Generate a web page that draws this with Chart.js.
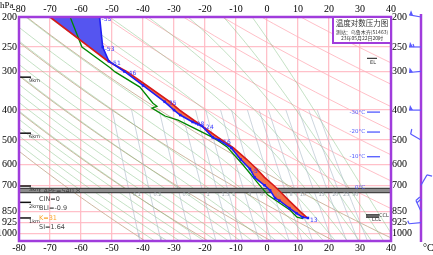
<!DOCTYPE html>
<html>
<head>
<meta charset="utf-8">
<script src="https://cdn.jsdelivr.net/npm/chart.js@4.4.1/dist/chart.umd.min.js"></script>
<style>
  html, body { margin: 0; padding: 0; background: #fff; }
</style>
</head>
<body>
<canvas id="skewt" width="433" height="255"></canvas>
<script>
// axes
const pressureTicks = [200, 250, 300, 400, 500, 600, 700, 850, 925, 1000];
const tempMin = -80, tempMax = 40;
const presTop = 200, presBottom = 1060;

// environment temperature (blue, with points)
const tempP = [200, 250, 278, 300, 333, 376, 400, 415, 437, 450, 490, 500, 530, 578, 620, 660, 700, 727, 770, 785, 830, 862, 888, 893];
const tempC = [-54, -53, -51, -46, -40, -33, -30, -28, -24, -21, -17.5, -15.5, -11.5, -8.5, -5.5, -4, -0.8, 1, 2.6, 4, 7.2, 9.5, 11.5, 13.2];

// dew point (green)
const dewP = [200, 250, 292, 301, 337, 380, 389, 394, 418, 431, 489, 500, 526, 602, 684, 753, 800, 842, 888, 898];
const dewC = [-63.5, -59.7, -50.6, -49, -41, -36.8, -35.5, -37.1, -32.9, -28.7, -17.7, -16.1, -12.9, -7.7, -3.2, 0.3, 4.2, 7.4, 9.7, 11.6];

// parcel curve (red)
const parcelP = [200, 278, 300, 333, 376, 400, 437, 490, 530, 578, 620, 660, 700, 740, 785, 830, 862, 890];
const parcelC = [-70, -51.3, -45.3, -38.8, -31.3, -28.2, -22.8, -15.8, -10.8, -6.5, -3.3, -0.8, 2.1, 4.6, 7.1, 9.6, 11.3, 12.9];

// labels next to the temperature curve
const tempLabelP = [200, 250, 278, 300, 376, 437, 450, 500, 620, 893];
const tempLabelText = ['-55', '-53', '-51', '-46', '-35', '-28', '-24', '-16', '-5', '13'];

// background lines
const dryTheta = [230, 250, 270, 290, 310, 330, 350, 370, 390, 410, 430, 450, 470, 490];
const moistStart = [-40, -36, -32, -28, -24, -20, -16, -12, -8, -4, 0, 4, 8, 12, 16, 20, 24, 28, 32, 36, 40];
const mixRatio = [0.1, 0.2, 0.5, 1, 1.5, 2, 3, 4, 6, 8, 10, 15, 20, 25, 30];
const mixLabel = ['0.1', '0.2', '0.5', '1', '1.5', '2', '3', '4', '6', '8', '10', '15', '20', '25', '30'];

// wind barbs (m/s, direction from)
const windP = [200, 250, 300, 400, 500, 700, 850, 925];
const windDir = [280, 270, 265, 270, 300, 30, 335, 265];
const windSpd = [20, 22, 20, 20, 4, 4, 8, 2];

// height marks on the left
const heightP = [313, 475, 704, 795, 893];
const heightText = ['9km', '6km', '3km', '2km', '1km'];

// indices
const statText = ['CAPE=540.8', 'CIN=0', 'BLI=-0.9', 'K=31', 'SI=1.64'];
const isoText = ['-30°C', '-20°C', '-10°C', '0°C'];
const isoP = [406, 471, 566, 712];

const PINK = 'rgba(255,185,195,0.9)';

function pts(ps, ts) { return ps.map((p, i) => ({x: ts[i], y: p})); }

// dry adiabat T(p) = theta*(p/1000)^0.286
function dryLine(theta) {
  const out = [];
  for (let p = 190; p <= 1070; p += 20) out.push({x: theta * Math.pow(p / 1000, 0.286) - 273.15, y: p});
  return out;
}

function satMix(tc, p) {
  const es = 6.112 * Math.exp(17.67 * tc / (tc + 243.5));
  return 0.622 * es / (p - es);
}
function moistRate(T, p) {
  const rs = satMix(T - 273.15, p);
  return (287 * T + 2.5e6 * rs) / (1004 + 2.5e6 * 2.5e6 * rs * 0.622 / (287 * T * T));
}
function moistLine(t0) {
  const up = [], down = [];
  let T = t0 + 273.15, lp = Math.log(1000), h = -0.02;
  up.push({x: t0, y: 1000});
  while (lp > Math.log(190)) {
    const k1 = moistRate(T, Math.exp(lp));
    const k2 = moistRate(T + h * k1, Math.exp(lp + h));
    T += h * (k1 + k2) / 2; lp += h;
    up.push({x: T - 273.15, y: Math.exp(lp)});
  }
  T = t0 + 273.15; lp = Math.log(1000);
  while (lp < Math.log(1070)) {
    const k1 = moistRate(T, Math.exp(lp));
    T += 0.02 * k1; lp += 0.02;
    down.push({x: T - 273.15, y: Math.exp(lp)});
  }
  return down.reverse().concat(up);
}
function mixT(w, p) {
  const e = w * p / (622 + w);
  const l = Math.log(e / 6.112);
  return 243.5 * l / (17.67 - l);
}
function mixLine(w) {
  const out = [];
  for (let p = 400; p <= 1070; p += 30) out.push({x: mixT(w, p), y: p});
  return out;
}

// fill polygons built from the curves
const upperIdx = parcelP.findIndex(p => p === 278);
const negShape = pts(parcelP, parcelC).filter(d => d.y <= 278)
  .concat(pts(tempP, tempC).filter(d => d.y <= 278).reverse());
const posShape = pts(parcelP, parcelC).filter(d => d.y >= 278)
  .concat(pts(tempP, tempC).filter(d => d.y >= 278).reverse());

const line = (data, color, width, extra) => Object.assign({
  data, borderColor: color, borderWidth: width, pointRadius: 0, fill: false, tension: 0
}, extra || {});

const datasets = [
  line(pts(tempP, tempC), 'rgb(30,30,245)', 1.6, {pointRadius: 1.8, pointStyle: 'rect', pointBackgroundColor: 'rgb(30,30,245)', pointBorderWidth: 0}),
  line(pts(parcelP, parcelC), 'rgb(215,25,25)', 1.6),
  line(pts(dewP, dewC), 'rgb(0,135,0)', 1.3),
  line(posShape, 'rgba(0,0,0,0)', 0, {fill: 'shape', backgroundColor: 'rgb(245,112,72)'}),
  line(negShape, 'rgba(0,0,0,0)', 0, {fill: 'shape', backgroundColor: 'rgb(85,85,240)'}),
  line([{x: tempMin, y: 716}, {x: tempMax, y: 716}], '#444', 1.2),
  line([{x: tempMin, y: 739}, {x: tempMax, y: 739}], '#444', 1.2),
  line([{x: tempMin, y: 727}, {x: tempMax, y: 727}], '#8c8c8c', 4)
];
mixRatio.forEach(w => datasets.push(line(mixLine(w), 'rgba(170,185,200,0.75)', 0.8)));
moistStart.forEach(t => datasets.push(line(moistLine(t), 'rgba(120,185,120,0.55)', 0.8)));
dryTheta.forEach(th => datasets.push(line(dryLine(th), th <= 310 ? 'rgba(200,175,150,0.9)' : 'rgba(255,175,185,0.8)', 1)));

function txt(ctx, s, x, y, font, color, align) {
  ctx.font = font; ctx.fillStyle = color; ctx.textAlign = align || 'left'; ctx.textBaseline = 'middle';
  ctx.fillText(s, x, y);
}

function drawBarb(ctx, x0, y0, dir, spd) {
  const r = dir * Math.PI / 180;
  const ux = Math.sin(r), uy = -Math.cos(r);
  const px = -uy, py = ux; // feather side
  const L = 12;
  ctx.beginPath();
  ctx.moveTo(x0, y0);
  ctx.lineTo(x0 + ux * L, y0 + uy * L);
  ctx.stroke();
  let pos = L, s = spd;
  while (s >= 20) {
    const bx = x0 + ux * pos, by = y0 + uy * pos;
    ctx.beginPath();
    ctx.moveTo(bx, by);
    ctx.lineTo(bx + px * 5 - ux * 1, by + py * 5 - uy * 1);
    ctx.lineTo(bx - ux * 4, by - uy * 4);
    ctx.closePath(); ctx.fill();
    pos -= 5; s -= 20;
  }
  while (s >= 4) {
    const bx = x0 + ux * pos, by = y0 + uy * pos;
    ctx.beginPath(); ctx.moveTo(bx, by);
    ctx.lineTo(bx + px * 5 + ux * 1.5, by + py * 5 + uy * 1.5); ctx.stroke();
    pos -= 2.5; s -= 4;
  }
  if (s >= 2) {
    const bx = x0 + ux * pos, by = y0 + uy * pos;
    ctx.beginPath(); ctx.moveTo(bx, by);
    ctx.lineTo(bx + px * 3 + ux * 1, by + py * 3 + uy * 1); ctx.stroke();
  }
}

const deco = {
  id: 'deco',
  beforeDraw(chart) {
    const ctx = chart.ctx;
    ctx.save(); ctx.fillStyle = '#fff'; ctx.fillRect(0, 0, chart.width, chart.height); ctx.restore();
  },
  afterDatasetsDraw(chart) {
    const {ctx, chartArea: a, scales} = chart;
    const X = v => scales.x.getPixelForValue(v);
    const Y = v => scales.y.getPixelForValue(v);
    ctx.save();

    // mixing ratio labels
    mixRatio.forEach((w, i) => {
      const x = X(mixT(w, 753)) + 3;
      if (x < a.right - 5) txt(ctx, mixLabel[i], x, Y(753), '5px "DejaVu Sans"', 'rgba(150,160,170,0.9)', 'left');
    });

    // temperature labels
    tempLabelP.forEach((p, i) => {
      const k = tempP.indexOf(p);
      txt(ctx, tempLabelText[i], X(tempC[k]) + 2, Y(p) + 2, '6px "DejaVu Sans"', 'rgb(60,60,255)');
    });

    // height marks
    ctx.strokeStyle = '#111'; ctx.lineWidth = 1.5;
    heightP.forEach((p, i) => {
      const y = Y(p);
      ctx.beginPath(); ctx.moveTo(a.left, y); ctx.lineTo(a.left + 12, y); ctx.stroke();
      txt(ctx, heightText[i], a.left + 10, y + 4, '5px "DejaVu Sans"', '#333');
    });

    // index texts
    const sy = [191, 199, 208, 218, 227];
    statText.forEach((s, i) => txt(ctx, s, a.left + 20, sy[i], '6.5px "DejaVu Sans"', i === 3 ? 'rgb(250,165,40)' : '#444'));

    // isotherm heights on the right
    isoP.forEach((p, i) => {
      const y = Y(p);
      txt(ctx, isoText[i], 365, y, '5.5px "DejaVu Sans"', 'rgb(80,90,255)', 'right');
      if (i < 3) {
        ctx.strokeStyle = 'rgb(80,90,255)'; ctx.lineWidth = 1.3;
        ctx.beginPath(); ctx.moveTo(367, y); ctx.lineTo(380, y); ctx.stroke();
      }
    });

    // EL / CCL / LCL marks
    ctx.strokeStyle = '#111'; ctx.lineWidth = 1;
    let y = Y(272);
    ctx.beginPath(); ctx.moveTo(367, y); ctx.lineTo(377, y); ctx.stroke();
    txt(ctx, 'EL', 370, y + 4, '5px "DejaVu Sans"', '#333');
    [872, 880, 888].forEach(p => {
      y = Y(p); ctx.beginPath(); ctx.moveTo(366, y); ctx.lineTo(379, y); ctx.stroke();
    });
    txt(ctx, 'CCL', 379, Y(880), '5px "DejaVu Sans"', '#333');
    txt(ctx, 'LCL', 372, Y(905), '5px "DejaVu Sans"', '#333');

    // frame
    ctx.strokeStyle = 'rgb(160,60,220)'; ctx.lineWidth = 2.5;
    ctx.strokeRect(a.left, a.top, a.right - a.left, a.bottom - a.top);
    ctx.beginPath(); ctx.moveTo(421, 14); ctx.lineTo(421, 242); ctx.stroke();

    // title box
    ctx.fillStyle = '#fff';
    ctx.fillRect(333, a.top, a.right - 333, 26);
    ctx.lineWidth = 2;
    ctx.strokeRect(333, a.top, a.right - 333, 26);
    txt(ctx, '温度对数压力图', 362, a.top + 6, '7.5px "Noto Sans CJK SC"', '#333', 'center');
    txt(ctx, '测站：乌鲁木齐(51463)', 362, a.top + 15, '5px "Noto Sans CJK SC"', '#333', 'center');
    txt(ctx, '23年05月22日20时', 362, a.top + 21.5, '5px "Noto Sans CJK SC"', '#333', 'center');

    // axis units
    txt(ctx, 'hPa', 0, 6, '9px "Liberation Serif"', '#000');
    txt(ctx, '°C', 423, 248, '10px "Liberation Serif"', '#000');

    // wind barbs
    ctx.strokeStyle = 'rgb(90,90,255)'; ctx.fillStyle = 'rgb(90,90,255)'; ctx.lineWidth = 1.2;
    windP.forEach((p, i) => drawBarb(ctx, 421, Y(p), windDir[i], windSpd[i]));
    ctx.restore();
  }
};

const tickFont = {family: '"Liberation Serif", "DejaVu Serif", serif', size: 10};
const yTicks = s => { s.ticks = pressureTicks.map(v => ({value: v})); };

new Chart(document.getElementById('skewt'), {
  type: 'line',
  data: {datasets},
  options: {
    responsive: false,
    devicePixelRatio: 1,
    animation: false,
    events: [],
    layout: {padding: 0},
    plugins: {legend: {display: false}, tooltip: {enabled: false}},
    scales: {
      x: {
        type: 'linear', position: 'bottom', min: tempMin, max: tempMax,
        ticks: {stepSize: 10, font: tickFont, color: '#000', padding: 1, maxRotation: 0},
        grid: {color: PINK, lineWidth: 1.3, drawTicks: false},
        border: {display: false},
        afterFit: s => { s.height = 14; }
      },
      x2: {
        type: 'linear', position: 'top', min: tempMin, max: tempMax,
        ticks: {stepSize: 10, font: tickFont, color: '#000', padding: 2, maxRotation: 0},
        grid: {display: false, drawTicks: false},
        border: {display: false},
        afterFit: s => { s.height = 17; }
      },
      y: {
        type: 'logarithmic', position: 'left', reverse: true, min: presTop, max: presBottom,
        afterBuildTicks: yTicks,
        ticks: {font: tickFont, color: '#000', padding: 2, callback: v => String(v)},
        grid: {color: PINK, lineWidth: 1.3, drawTicks: false},
        border: {display: false},
        afterFit: s => { s.width = 19; }
      },
      y2: {
        type: 'logarithmic', position: 'right', reverse: true, min: presTop, max: presBottom,
        afterBuildTicks: yTicks,
        ticks: {font: tickFont, color: '#000', padding: 1, callback: v => String(v)},
        grid: {display: false, drawTicks: false},
        border: {display: false},
        afterFit: s => { s.width = 42; }
      }
    }
  },
  plugins: [deco]
});
</script>
</body>
</html>
